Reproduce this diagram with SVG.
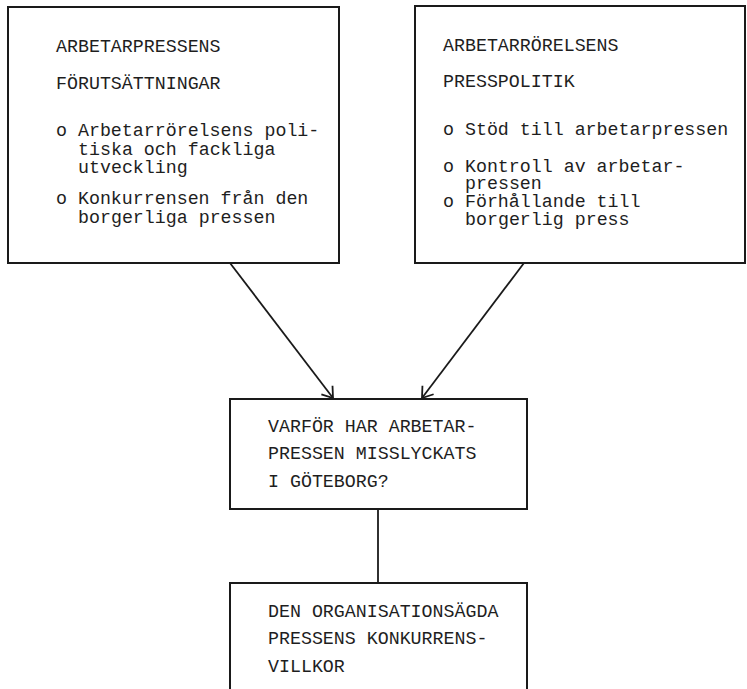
<svg xmlns="http://www.w3.org/2000/svg" width="747" height="689" viewBox="0 0 747 689">
<style>
.box{fill:#fff;stroke:#1a1a1a;stroke-width:2}
.t{font-family:"Liberation Mono","Courier New",monospace;font-size:18.3px;fill:#1e1e1e}
.c{stroke:#1a1a1a;stroke-width:1.8;fill:none}
</style>
<defs>
<marker id="ah" markerUnits="userSpaceOnUse" markerWidth="24" markerHeight="24" refX="12" refY="12" orient="auto" viewBox="0 0 24 24">
<path d="M2,5 L12,12 L2,19" fill="none" stroke="#1a1a1a" stroke-width="1.8"/>
</marker>
</defs>
<rect width="747" height="689" fill="#fff"/>
<g id="connectors">
<line class="c" x1="230" y1="263" x2="333" y2="398" marker-end="url(#ah)"/>
<line class="c" x1="524" y1="263" x2="422" y2="398" marker-end="url(#ah)"/>
<line class="c" x1="378" y1="509" x2="378" y2="583"/>
</g>
<g id="node1">
<rect class="box" x="8" y="7" width="331" height="256"/>
<text class="t" x="56" y="52">ARBETARPRESSENS</text>
<text class="t" x="56" y="89">FÖRUTSÄTTNINGAR</text>
<text class="t" x="56" y="136">o Arbetarrörelsens poli-</text>
<text class="t" x="78" y="155">tiska och fackliga</text>
<text class="t" x="78" y="173">utveckling</text>
<text class="t" x="56" y="204">o Konkurrensen från den</text>
<text class="t" x="78" y="223">borgerliga pressen</text>
</g>
<g id="node2">
<rect class="box" x="415" y="6" width="330" height="257"/>
<text class="t" x="443" y="51">ARBETARRÖRELSENS</text>
<text class="t" x="443" y="87">PRESSPOLITIK</text>
<text class="t" x="443" y="135">o Stöd till arbetarpressen</text>
<text class="t" x="443" y="172">o Kontroll av arbetar-</text>
<text class="t" x="465" y="189">pressen</text>
<text class="t" x="443" y="207">o Förhållande till</text>
<text class="t" x="465" y="225">borgerlig press</text>
</g>
<g id="node3">
<rect class="box" x="230" y="399" width="297" height="110"/>
<text class="t" x="268" y="432">VARFÖR HAR ARBETAR-</text>
<text class="t" x="268" y="459">PRESSEN MISSLYCKATS</text>
<text class="t" x="268" y="487">I GÖTEBORG?</text>
</g>
<g id="node4">
<rect class="box" x="230" y="583" width="297" height="120"/>
<text class="t" x="268" y="617">DEN ORGANISATIONSÄGDA</text>
<text class="t" x="268" y="644">PRESSENS KONKURRENS-</text>
<text class="t" x="268" y="672">VILLKOR</text>
</g>
</svg>
